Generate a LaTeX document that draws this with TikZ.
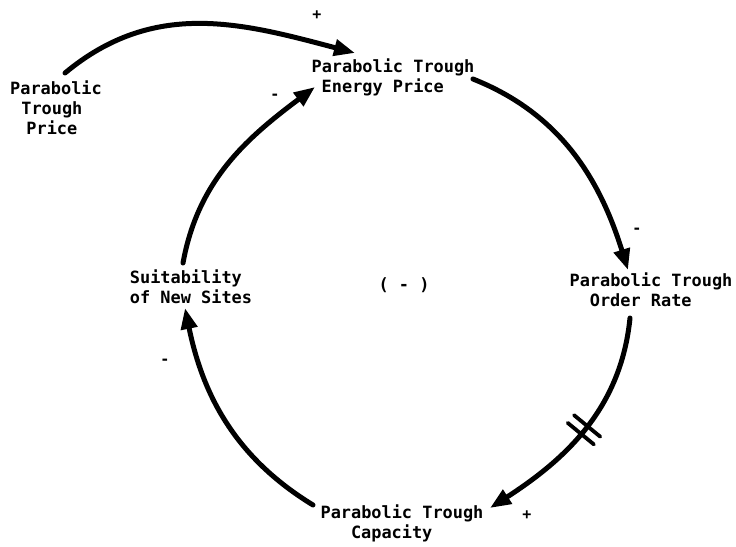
\documentclass[tikz,border=0pt]{standalone}
\usepackage{fontspec}
\newfontfamily\lbl{DejaVu Sans Mono}
\usetikzlibrary{arrows.meta,calc,decorations.markings}
\begin{document}
\begin{tikzpicture}[x=1pt,y=-1pt,
  lab/.style={font=\lbl\bfseries\fontsize{16.9}{20}\selectfont, inner sep=0pt, align=left},
  sgn/.style={font=\lbl\bfseries\fontsize{15}{15}\selectfont, inner sep=0pt},
  conn/.style={line width=5pt, line cap=round, -{Triangle[length=21pt,width=16pt]}},
  delay/.style={postaction={decorate}, decoration={markings, mark=at position 0.5 with {
      \draw[-, line width=3.8pt] (-5pt,-17pt) -- (-5pt,17pt);
      \draw[-, line width=3.8pt] (5pt,-17pt) -- (5pt,17pt);}}},
]
\useasboundingbox (0,0) rectangle (736,546);
\node[lab] (price) at (56,108) {Parabolic\\\hspace*{0.66em}Trough\\\hspace*{0.96em}Price};
\node[lab] (energy) at (393,77) {Parabolic Trough\\\hspace*{0.6em}Energy Price};
\node[lab] (order) at (651,290) {Parabolic Trough\\\hspace*{1.2em}Order Rate};
\node[lab] (suit) at (191,287) {Suitability\\of New Sites};
\node[lab] (cap) at (402,523) {Parabolic Trough\\\hspace*{1.8em}Capacity};
\node[lab] (loop) at (404,285) {( - )};

\draw[conn] ($(price.center)+(9,-35)$) .. controls +(89,-74) and +(-113,-30) .. ($(energy.center)+(-38,-24)$);
\draw[conn] ($(energy.center)+(80,2)$) .. controls +(88,35) and +(-28,-90) .. ($(order.center)+(-23,-20)$);
\draw[conn,delay] ($(order.center)+(-21,28)$) .. controls +(-9,90) and +(76,-49) .. ($(cap.center)+(88,-15)$);
\draw[conn] ($(cap.center)+(-89,-18)$) .. controls +(-77,-47) and +(18,88) .. ($(suit.center)+(-6,21)$);
\draw[conn] ($(suit.center)+(-8,-24)$) .. controls +(15,-83) and +(-68,51) .. ($(energy.center)+(-78,10)$);

\node[sgn] (p1) at (317,15) {+};
\node[sgn] (m1) at (275,97) {-};
\node[sgn] (m2) at (637,231) {-};
\node[sgn] (p2) at (527,515) {+};
\node[sgn] (m3) at (165,362) {-};
\end{tikzpicture}
\end{document}
